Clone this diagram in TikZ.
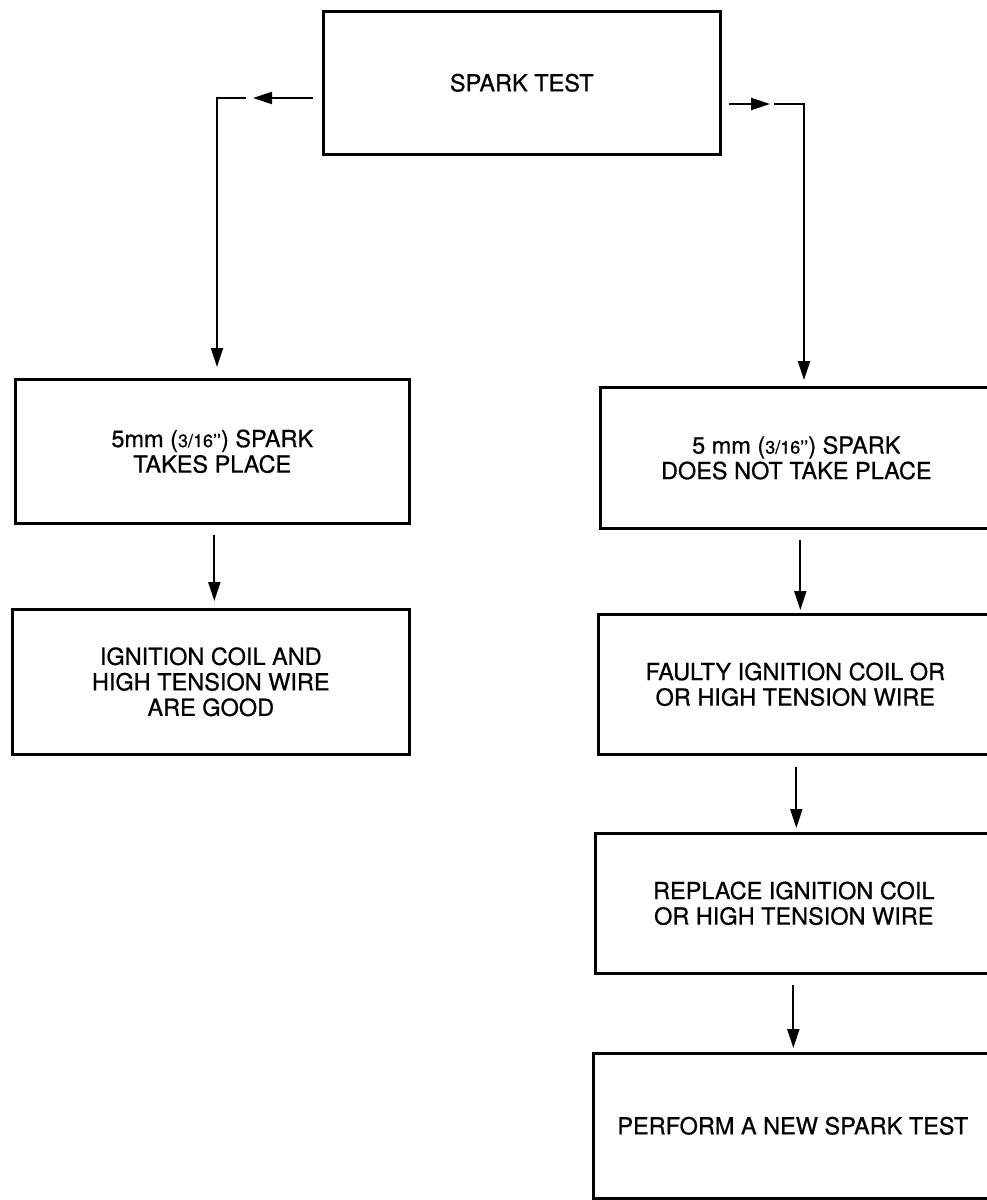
\documentclass[tikz,border=0pt]{standalone}
\usepackage{fontspec}
\setmainfont{TeX Gyre Heros}[FakeBold=0.7]
\usetikzlibrary{arrows.meta,calc}
\newcommand{\smfr}[1]{{\fontsize{18}{20}\selectfont #1}}
\begin{document}
\begin{tikzpicture}[x=1pt,y=-1pt,
  box/.style={draw, line width=2.6pt, inner sep=0pt, align=center, anchor=north west,
    font=\fontsize{23.5}{25.5}\selectfont},
  conn/.style={line width=2pt},
  arrow/.style={conn, -{Triangle[length=19pt,width=12pt]}},
]
\path[use as bounding box, clip] (0,0) rectangle (987,1200);
\fill[white] (0,0) rectangle (987,1200);

\node[box, minimum width=397pt, minimum height=143pt] (top) at (322,10) {SPARK TEST};

\node[box, minimum width=394pt, minimum height=144pt] (l1) at (14,378)
  {5mm (\smfr{3/16\textquoteright\textquoteright}) SPARK\\TAKES PLACE};
\node[box, minimum width=397pt, minimum height=145pt] (l2) at (11,608)
  {IGNITION COIL AND\\HIGH TENSION WIRE\\ARE GOOD};

\node[box, minimum width=392pt, minimum height=141pt] (r1) at (599,386)
  {5 mm (\smfr{3/16\textquoteright\textquoteright}) SPARK\\DOES NOT TAKE PLACE};
\node[box, minimum width=394pt, minimum height=140pt] (r2) at (597,613)
  {FAULTY IGNITION COIL OR\\OR HIGH TENSION WIRE};
\node[box, minimum width=397pt, minimum height=140pt] (r3) at (594,832)
  {REPLACE IGNITION COIL\\OR HIGH TENSION WIRE};
\node[box, minimum width=399pt, minimum height=145pt] (r4) at (592,1052)
  {PERFORM A NEW SPARK TEST};

% left branch from top box
\coordinate (lt) at (253,98);
\coordinate (ls) at (246,98);
\coordinate (lc) at (217,98);
\draw[arrow] ($(top.west |- lt)+(-9,0)$) -- (lt);
\draw[arrow, shorten >=11pt] (ls) -- (lc) -- (lc |- l1.north);

% right branch from top box
\coordinate (rt) at (770,104);
\coordinate (rs) at (774,104);
\coordinate (rc) at (804,104);
\draw[arrow] ($(top.east |- rt)+(7,0)$) -- (rt);
\draw[arrow, shorten >=6pt] (rs) -- (rc) -- (rc |- r1.north);

% vertical connectors
\coordinate (a1) at ($(l1.south)+(2,10)$);
\draw[arrow, shorten >=7pt] (a1) -- (a1 |- l2.north);
\coordinate (a2) at ($(r1.south)+(4,10)$);
\draw[arrow, shorten >=3pt] (a2) -- (a2 |- r2.north);
\coordinate (a3) at ($(r2.south)+(1,11)$);
\draw[arrow, shorten >=4pt] (a3) -- (a3 |- r3.north);
\coordinate (a4) at ($(r3.south)+(-0.5,10)$);
\draw[arrow, shorten >=4pt] (a4) -- (a4 |- r4.north);
\end{tikzpicture}
\end{document}
